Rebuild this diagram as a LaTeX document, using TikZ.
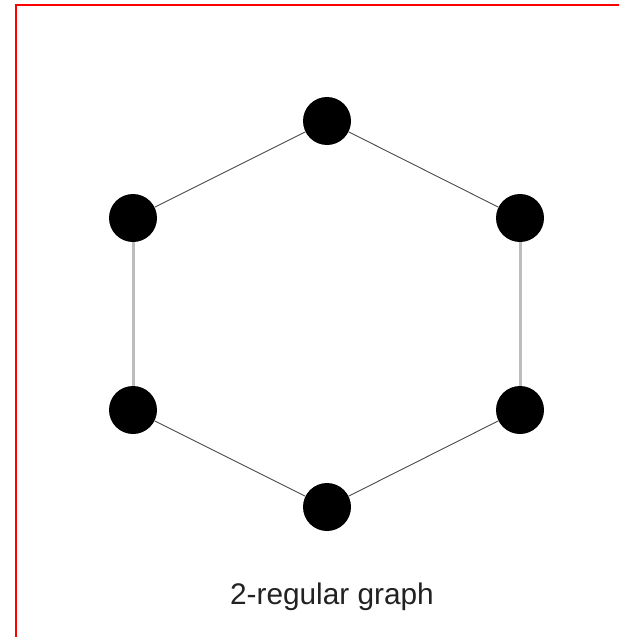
\documentclass[tikz,border=0pt]{standalone}
\usepackage{fontspec}
\setmainfont{Liberation Sans}
\usetikzlibrary{positioning}
\definecolor{FrameRed}{HTML}{FF0000}
\definecolor{EdgeInk}{HTML}{4A4A4A}
\definecolor{EdgeMute}{HTML}{BDBDBD}
\definecolor{LabelInk}{HTML}{222222}

\begin{document}
\begin{tikzpicture}[
    x=1pt, y=-1pt,
    vertex/.style={
      circle,
      fill=black,
      minimum size=48pt,
      inner sep=0pt,
    },
    thinedge/.style={draw=EdgeInk, line width=0.9pt},
    thickedge/.style={draw=EdgeMute, line width=3pt},
  ]
    \useasboundingbox (0,0) rectangle (619,637);
    \clip (0,0) rectangle (619,637);
    \draw[FrameRed, line width=2.8pt] (16,660) -- (16,5) -- (650,5);

    \node[vertex] (top) at (327,121) {};
    \node[vertex] (upleft) at (133,218) {};
    \node[vertex] (upright) at (520,218) {};
    \node[vertex] (lowleft) at (133,410) {};
    \node[vertex] (lowright) at (520,410) {};
    \node[vertex] (bottom) at (327,507) {};

    \draw[thinedge] (top) -- (upleft);
    \draw[thinedge] (top) -- (upright);
    \draw[thickedge] (upleft) -- (lowleft);
    \draw[thickedge] (upright) -- (lowright);
    \draw[thinedge] (lowleft) -- (bottom);
    \draw[thinedge] (lowright) -- (bottom);

    \node[
      font=\fontsize{29.8}{34}\selectfont,
      text=LabelInk,
    ] (caption) at (332,597) {2-regular graph};
  \end{tikzpicture}
\end{document}
